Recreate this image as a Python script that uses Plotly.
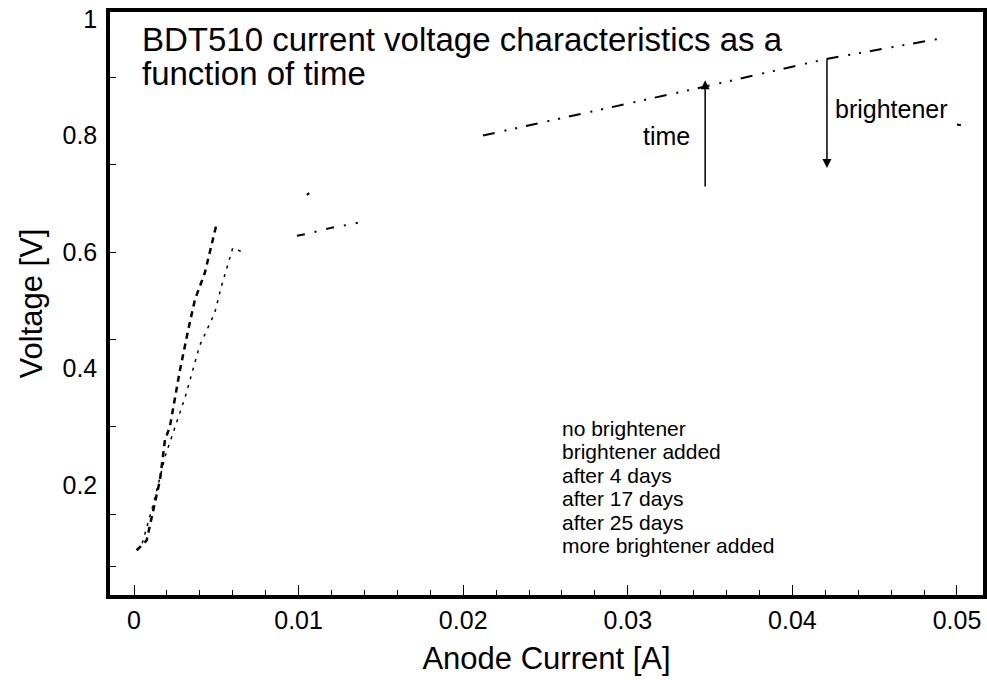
import plotly.graph_objects as go

# ---- data ----
no_brightener_I = [0.00016, 0.00077, 0.00097, 0.00127, 0.00158, 0.00188, 0.00218, 0.00238,
                   0.00279, 0.00329, 0.00370, 0.00430, 0.00480, 0.00500]
no_brightener_V = [0.088, 0.105, 0.131, 0.171, 0.209, 0.277, 0.300, 0.332,
                   0.397, 0.466, 0.518, 0.564, 0.626, 0.646]

brightener_added_I = [0.00050, 0.00120, 0.00190, 0.00260, 0.00310, 0.00400, 0.00490,
                      0.00530, 0.00560, 0.00600, 0.00660]
brightener_added_V = [0.100, 0.170, 0.250, 0.310, 0.350, 0.440, 0.495,
                      0.540, 0.570, 0.607, 0.600]

after_4_days_I = [0.0099, 0.0105, 0.0119, 0.0136]
after_4_days_V = [0.628, 0.631, 0.641, 0.650]

after_17_days_I = [0.0105, 0.0107]
after_17_days_V = [0.698, 0.702]

after_25_days_I = [0.0212, 0.0280, 0.0347, 0.0420, 0.0491]
after_25_days_V = [0.800, 0.842, 0.884, 0.931, 0.967]

more_brightener_I = [0.0500, 0.0503]
more_brightener_V = [0.819, 0.817]

legend_labels = ["no brightener", "brightener added", "after 4 days",
                 "after 17 days", "after 25 days", "more brightener added"]

x_tick_vals = [0, 0.01, 0.02, 0.03, 0.04, 0.05]
x_tick_text = ["0", "0.01", "0.02", "0.03", "0.04", "0.05"]
y_tick_vals = [0.2, 0.4, 0.6, 0.8, 1.0]
y_tick_text = ["0.2", "0.4", "0.6", "0.8", "1"]
y_minor_vals = [0.06, 0.15, 0.30, 0.45, 0.60, 0.75, 0.90]

FONT = "Liberation Sans, Arial, sans-serif"

series = [
    (legend_labels[0], no_brightener_I, no_brightener_V, "6px,5px", 2.5),
    (legend_labels[1], brightener_added_I, brightener_added_V, "3px,6px", 1.5),
    (legend_labels[2], after_4_days_I, after_4_days_V, "8px,10px,2px,10px", 2),
    (legend_labels[3], after_17_days_I, after_17_days_V, "3px,6px", 2),
    (legend_labels[4], after_25_days_I, after_25_days_V, "12px,10px,2px,9px,2px,9px", 2),
    (legend_labels[5], more_brightener_I, more_brightener_V, "4px,6px", 2),
]

fig = go.Figure()
for name, xs, ys, dash, w in series:
    fig.add_trace(go.Scatter(x=xs, y=ys, mode="lines", name=name, showlegend=False,
                             line=dict(color="black", width=w, dash=dash)))

# legend block (the original's line samples are almost invisible: text only)
PLOT_TOP, PLOT_H = 12, 583
legend_rows_px = [428, 451.5, 475, 498.5, 522, 545]
for lab, ypx in zip(legend_labels, legend_rows_px):
    fig.add_annotation(x=(560 - 110) / 873, y=(PLOT_TOP + PLOT_H - ypx) / PLOT_H,
                       xref="paper", yref="paper", xanchor="left", yanchor="middle",
                       text=lab, showarrow=False, font=dict(family=FONT, size=21, color="black"))

# title inside the plot
fig.add_annotation(x=0.034, y=0.952, xref="paper", yref="paper", xanchor="left", yanchor="middle",
                   text="BDT510 current voltage characteristics as a", showarrow=False,
                   font=dict(family=FONT, size=33, color="black"))
fig.add_annotation(x=0.034, y=0.895, xref="paper", yref="paper", xanchor="left", yanchor="middle",
                   text="function of time", showarrow=False,
                   font=dict(family=FONT, size=33, color="black"))

# arrows
fig.add_annotation(x=0.0347, y=0.895, ax=0.0347, ay=0.71, xref="x", yref="y", axref="x", ayref="y",
                   showarrow=True, arrowhead=2, arrowsize=1.2, arrowwidth=1.5, arrowcolor="black", text="")
fig.add_annotation(x=0.0421, y=0.744, ax=0.0421, ay=0.933, xref="x", yref="y", axref="x", ayref="y",
                   showarrow=True, arrowhead=2, arrowsize=1.2, arrowwidth=1.5, arrowcolor="black", text="")
fig.add_annotation(x=0.03238, y=0.799, xref="x", yref="y", text="time", showarrow=False,
                   xanchor="center", yanchor="middle", font=dict(family=FONT, size=25, color="black"))
fig.add_annotation(x=0.04247, y=0.8455, xref="x", yref="y", text="brightener", showarrow=False,
                   xanchor="left", yanchor="middle", font=dict(family=FONT, size=25, color="black"))

fig.update_layout(
    width=987, height=680,
    margin=dict(l=110, r=4, t=12, b=85),
    paper_bgcolor="white", plot_bgcolor="white",
    font=dict(family=FONT, color="black"),
    showlegend=False,
    xaxis=dict(range=[-0.001458, 0.05158], tickvals=x_tick_vals, ticktext=x_tick_text,
               ticks="inside", ticklen=10, tickwidth=1, tickcolor="black",
               minor=dict(dtick=0.002, tick0=0, ticks="inside", ticklen=5, tickcolor="black", showgrid=False),
               showgrid=False, zeroline=False, showline=True, linewidth=3.5, linecolor="black", mirror=True,
               automargin=False,
               tickfont=dict(family=FONT, size=25, color="black"),
               title=dict(text="Anode Current [A]", font=dict(family=FONT, size=31, color="black"), standoff=16)),
    yaxis=dict(range=[0.0112, 1.012], tickvals=y_tick_vals, ticktext=y_tick_text,
               ticks="", showgrid=False, zeroline=False, showline=True, linewidth=3.5,
               linecolor="black", mirror=True, automargin=False, ticklabelstandoff=4,
               minor=dict(tickvals=y_minor_vals, ticks="inside", ticklen=6, tickcolor="black", showgrid=False),
               tickfont=dict(family=FONT, size=25, color="black"),
               title=dict(text="Voltage [V]", font=dict(family=FONT, size=31, color="black"), standoff=12)),
)

fig.write_html("out.html", config={"displayModeBar": False},
               post_script="document.body.style.margin='0';")
